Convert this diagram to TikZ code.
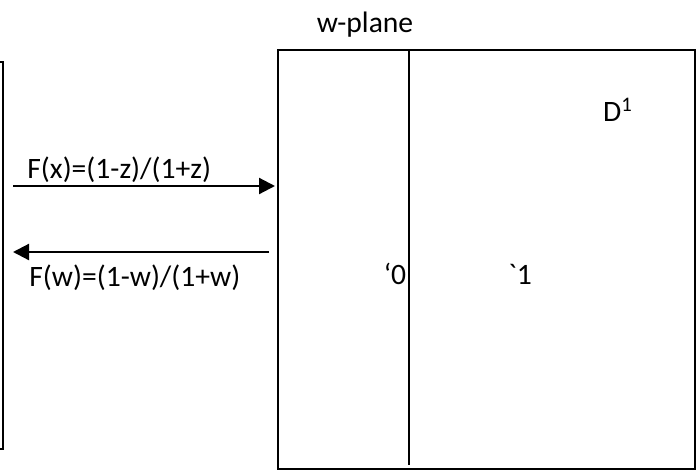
\documentclass[tikz,border=0pt]{standalone}
\usepackage{fontspec}
\setmainfont{Carlito}
\usetikzlibrary{arrows.meta,positioning}

\begin{document}
\begin{tikzpicture}[
            x=0.5pt, y=-0.5pt,
            plane/.style={draw, line width=1.1pt},
            axis/.style={line width=1.1pt},
            maparrow/.style={-{Triangle[length=8pt,width=8pt]}, line width=1.1pt},
            lbl/.style={inner sep=0pt, font=\fontsize{14.8}{17}\selectfont}
        ]
            \clip (0,0) rectangle (696,472);
            % z-plane, cut off at the left edge
            \draw[plane] (-40,62) rectangle (3,449);
            % w-plane
            \draw[plane] (278,50) rectangle (695,469);
            \draw[axis] (409,50) -- (409,465);
            \node[lbl] (wname) at (365,25) {w-plane};
            \node[lbl] (dom) at (618,110) {D\textsuperscript{1}};
            \node[lbl] (zero) at (395,274) {‘0};
            \node[lbl] (one) at (520,274) {\textasciigrave 1};
            
            % Maps
            \coordinate (zout) at (13,186);
            \coordinate (win) at (275,186);
            \coordinate (wout) at (269,252);
            \coordinate (zin) at (13,252);
            \draw[maparrow] (zout) -- (win);
            \draw[maparrow] (wout) -- (zin);
            \node[lbl, anchor=west] (fz) at (27,170) {F(x)=(1-z)/(1+z)};
            \node[lbl, anchor=west] (fw) at (29,278) {F(w)=(1-w)/(1+w)};
        \end{tikzpicture}
\end{document}
